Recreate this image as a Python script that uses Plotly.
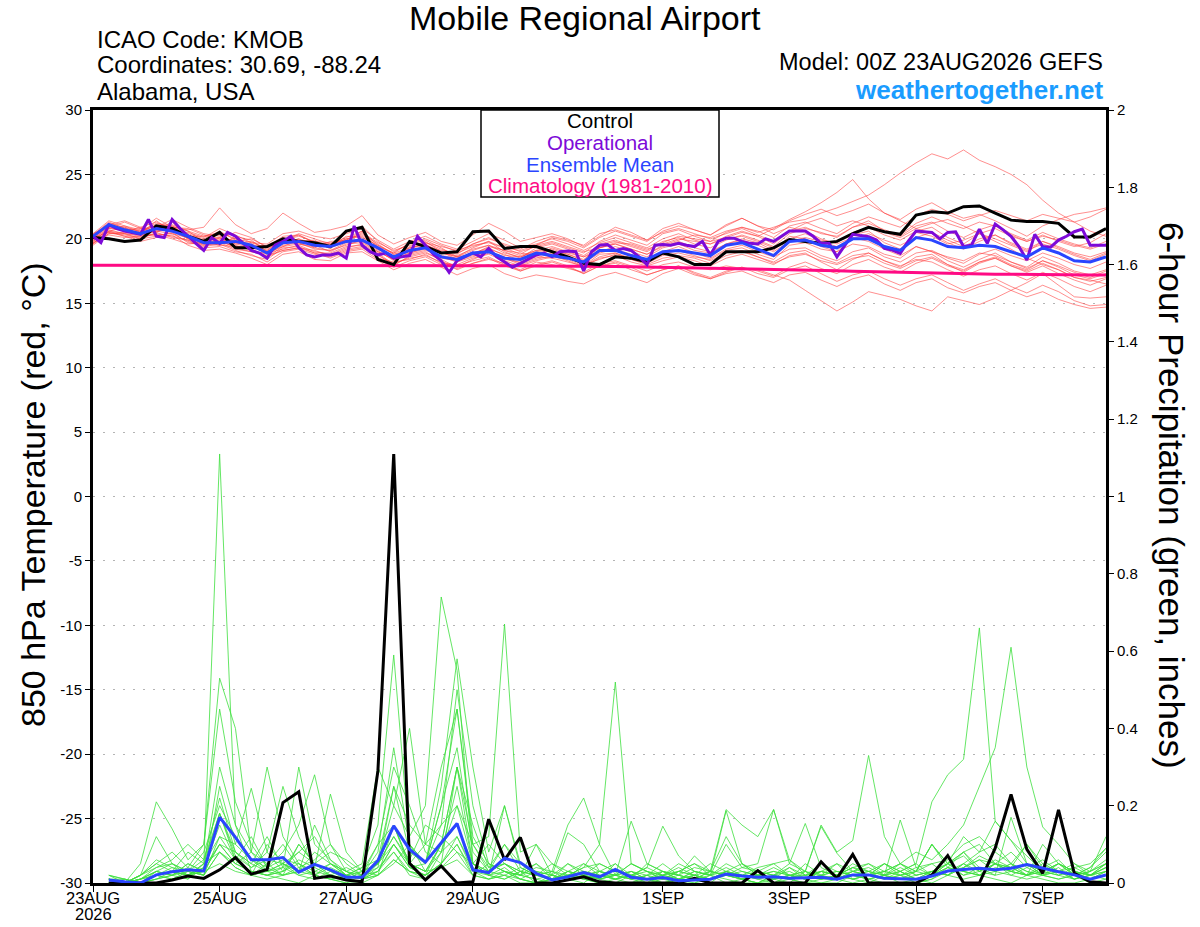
"""
GEFS meteogram for Mobile Regional Airport (KMOB):
850 hPa temperature spaghetti (left axis) and 6-hour precipitation (right axis)
"""
import plotly.graph_objects as go

# forecast hours from 00Z 23AUG2026 (GEFS 6-hourly, operational GFS 3-hourly)
hours = list(range(0, 385, 6))
op_hours = list(range(0, 385, 3))
precip_hours = hours[1:]

x_tickvals = [0, 48, 96, 144, 216, 264, 312, 360]
x_ticktext = ['23AUG', '25AUG', '27AUG', '29AUG', '1SEP', '3SEP', '5SEP', '7SEP']
y_tickvals = [-30, -25, -20, -15, -10, -5, 0, 5, 10, 15, 20, 25, 30]
y_ticktext = ['-30', '-25', '-20', '-15', '-10', '-5', '0', '5', '10', '15', '20', '25', '30']

# ---- 850 hPa temperature (C) ----
control_temp = [
    20.1, 20.0, 19.8, 19.9, 21.0, 20.8, 20.2, 19.8, 20.5, 19.3, 19.3, 19.4, 20.0, 19.8, 19.7, 19.4, 20.6, 20.9, 18.4, 18.0, 19.8, 19.4,
    18.9, 19.0, 20.55, 20.6, 19.25, 19.4, 19.4, 19.0, 18.6, 18.1, 18.0, 18.6, 18.5, 18.2, 18.9, 18.6, 18.0, 18.0, 19.0, 19.0, 19.0,
    19.3, 19.95, 19.8, 19.65, 19.8, 20.4, 20.9, 20.55, 20.35, 21.85, 22.1, 22.0, 22.5, 22.55, 22.0, 21.45, 21.35, 21.35, 21.2, 20.15, 20.15, 20.8,
]

mean_temp = [
    20.2, 21.1, 20.7, 20.4, 20.8, 20.6, 20.2, 19.7, 19.7, 19.8, 19.5, 18.9, 19.7, 19.8, 19.5, 19.4, 19.8, 19.9, 19.3, 18.6, 19.1, 19.3,
    18.6, 18.4, 18.9, 19.0, 18.5, 18.4, 18.9, 18.7, 18.5, 18.2, 19.1, 19.1, 18.7, 18.4, 19.0, 19.1, 18.9, 18.7, 19.5, 19.7, 19.2,
    18.7, 19.8, 19.9, 19.5, 19.3, 20.0, 20.0, 19.4, 19.1, 20.1, 19.9, 19.4, 19.3, 19.5, 19.4, 19.0, 18.6, 19.3, 18.9, 18.3, 18.2, 18.6,
]

clim_temp = [
    17.95, 17.95, 17.95, 17.96, 17.96, 17.96, 17.96, 17.96, 17.96, 17.96, 17.96, 17.96, 17.96, 17.95, 17.95, 17.95, 17.95, 17.95, 17.95, 17.94, 17.94, 17.94,
    17.93, 17.93, 17.92, 17.92, 17.91, 17.91, 17.90, 17.90, 17.89, 17.88, 17.87, 17.85, 17.83, 17.81, 17.79, 17.77, 17.75, 17.73, 17.71, 17.69, 17.67,
    17.64, 17.61, 17.58, 17.55, 17.52, 17.49, 17.46, 17.43, 17.40, 17.37, 17.34, 17.32, 17.30, 17.28, 17.26, 17.25, 17.23, 17.22, 17.21, 17.20, 17.19, 17.19,
]

# operational run, 3-hourly
oper_temp = [
    20.2, 19.7, 21.1, 20.8, 20.6, 20.5, 20.35, 21.5, 20.2, 20.1, 21.5, 20.8, 20.2, 19.65, 19.1, 20.1,
    19.65, 20.5, 20.2, 19.65, 19.1, 18.9, 18.5, 19.5, 19.8, 20.2, 19.3, 18.75, 18.6, 18.75, 18.75, 18.9,
    18.5, 21.0, 19.5, 19.0, 18.75, 18.9, 18.5, 18.6, 18.7, 20.2, 19.5, 18.8, 18.3, 17.4, 18.3, 18.6,
    18.9, 18.6, 19.25, 18.6, 18.2, 17.8, 18.1, 18.4, 18.75, 18.9, 18.6, 19.0, 19.05, 19.0, 17.5, 19.0,
    19.5, 19.55, 19.1, 19.25, 19.1, 18.6, 18.0, 19.5, 19.55, 19.5, 19.65, 19.5, 19.4, 19.8, 18.75, 19.8,
    20.05, 20.05, 19.8, 19.65, 19.6, 20.0, 19.8, 20.2, 20.6, 20.6, 20.6, 20.2, 19.65, 19.65, 18.6, 19.5,
    20.35, 20.25, 20.17, 19.9, 19.26, 19.13, 18.87, 19.8, 20.6, 20.55, 20.5, 20.0, 20.5, 20.55, 19.4, 19.5,
    20.75, 19.65, 21.15, 20.7, 20.2, 19.4, 18.35, 20.35, 19.4, 19.35, 19.9, 20.2, 20.55, 20.75, 19.5, 19.5,
    19.5,
]

# GEFS perturbed members
temp_m01 = [
    20.3, 21.2, 20.9, 20.6, 21.0, 20.8, 20.3, 19.9, 20.1, 19.6, 19.8, 19.2, 19.9, 20.3, 19.7, 19.5, 20.0, 20.3, 19.4, 18.9, 19.3, 19.6,
    18.9, 18.7, 19.2, 19.5, 18.9, 18.6, 19.1, 19.0, 18.8, 18.4, 19.3, 19.6, 19.2, 18.8, 19.5, 19.9, 20.3, 20.1, 20.6, 20.9, 20.5,
    20.9, 21.3, 21.5, 22.0, 22.4, 22.9, 23.4, 24.2, 25.1, 25.9, 26.6, 26.2, 26.9, 26.1, 25.6, 25.0, 24.2, 23.0, 22.0, 21.3, 20.6, 20.2,
]
temp_m02 = [
    20.0, 20.9, 21.3, 20.8, 20.5, 21.1, 20.6, 19.8, 19.5, 20.2, 19.9, 19.0, 19.6, 20.0, 19.3, 19.8, 19.9, 20.4, 19.6, 18.8, 19.0, 19.5,
    19.1, 18.9, 19.4, 19.8, 19.0, 18.5, 19.3, 19.6, 19.2, 18.7, 19.5, 19.8, 19.4, 19.0, 19.7, 20.2, 20.0, 19.8, 20.1, 20.5, 20.2,
    20.8, 21.5, 22.1, 22.8, 23.6, 24.6, 23.1, 22.0, 21.4, 20.8, 21.2, 21.5, 21.0, 20.4, 19.8, 19.2, 18.5, 18.0, 17.6, 17.0, 16.8, 16.5,
]
temp_m03 = [
    19.8, 20.5, 20.3, 20.1, 20.4, 20.2, 19.9, 19.3, 19.4, 19.0, 18.8, 18.2, 19.0, 19.2, 18.8, 18.6, 19.1, 19.3, 18.7, 18.1, 18.5, 18.7,
    18.2, 17.9, 18.3, 18.6, 18.0, 17.6, 18.2, 18.0, 17.7, 17.4, 18.1, 18.3, 17.9, 17.5, 18.0, 18.2, 17.8, 17.6, 17.9, 17.7, 17.6,
    17.2, 16.8, 16.0, 15.2, 14.4, 15.1, 15.9, 15.6, 15.3, 14.8, 14.4, 15.5, 15.2, 14.9, 15.4, 16.0, 16.6, 17.3, 16.4, 15.5, 15.4, 15.5,
]
temp_m04 = [
    20.1, 21.0, 20.6, 20.9, 21.3, 20.7, 20.4, 20.0, 20.6, 19.9, 19.4, 19.5, 20.1, 19.8, 19.9, 19.2, 20.5, 21.0, 19.8, 19.0, 19.6, 19.9,
    19.3, 18.6, 18.8, 19.4, 19.1, 18.9, 18.7, 19.3, 18.9, 18.6, 19.0, 19.4, 19.0, 18.6, 19.3, 19.6, 19.1, 18.9, 19.6, 20.0, 19.7,
    19.1, 20.2, 20.0, 19.4, 19.0, 20.3, 20.6, 19.7, 19.2, 20.5, 20.2, 19.6, 19.9, 20.4, 20.0, 19.5, 19.0, 19.8, 19.4, 18.9, 18.6, 19.0,
]
temp_m05 = [
    19.6, 20.6, 20.9, 20.3, 20.7, 21.3, 20.1, 19.6, 19.8, 20.0, 19.2, 18.6, 19.4, 19.9, 19.5, 19.0, 19.6, 19.7, 19.0, 18.4, 18.9, 19.2,
    18.5, 18.3, 18.7, 19.0, 18.4, 18.2, 18.6, 18.5, 18.2, 17.9, 18.8, 18.9, 18.4, 18.1, 18.7, 18.9, 18.6, 18.4, 19.1, 19.3, 18.8,
    18.4, 19.5, 19.7, 19.2, 19.0, 19.6, 19.4, 18.8, 18.5, 19.4, 19.0, 18.6, 18.3, 18.9, 18.7, 18.2, 17.8, 18.6, 18.1, 17.5, 17.2, 17.6,
]
temp_m06 = [
    20.4, 21.4, 21.0, 20.7, 21.6, 20.9, 20.7, 20.9, 22.4, 21.1, 20.4, 20.8, 22.0, 21.2, 20.5, 20.7, 21.0, 21.8, 20.3, 19.6, 20.1, 20.5,
    19.8, 19.5, 20.3, 21.2, 20.6, 19.8, 20.1, 20.4, 20.0, 19.4, 20.2, 20.9, 20.5, 19.9, 20.8, 21.2, 20.7, 20.3, 21.0, 21.6, 21.0,
    20.7, 21.4, 21.9, 22.3, 21.8, 22.2, 22.7, 22.0, 21.5, 22.3, 22.8, 22.1, 21.6, 21.9, 21.4, 20.8, 20.2, 21.0, 21.5, 21.9, 22.1, 22.4,
]
temp_m07 = [
    19.9, 20.7, 20.4, 20.0, 20.2, 20.5, 19.7, 19.5, 19.9, 19.3, 19.0, 18.9, 19.2, 19.5, 19.0, 18.8, 19.3, 19.6, 18.9, 18.0, 18.6, 18.9,
    18.4, 17.8, 18.4, 18.9, 18.5, 18.0, 18.4, 18.7, 18.3, 17.8, 18.5, 18.7, 18.2, 17.9, 18.3, 18.6, 18.3, 17.9, 18.5, 18.8, 18.4,
    18.0, 18.7, 18.9, 18.2, 17.6, 18.4, 18.9, 18.3, 17.8, 18.6, 18.8, 18.0, 17.4, 18.1, 18.5, 17.9, 17.4, 17.9, 17.3, 16.8, 16.4, 16.9,
]
temp_m08 = [
    20.2, 21.1, 21.4, 20.9, 20.6, 20.9, 20.8, 20.3, 20.0, 20.5, 20.1, 19.3, 19.8, 20.4, 20.0, 19.6, 19.9, 20.6, 19.3, 18.6, 19.4, 19.8,
    19.0, 18.4, 18.9, 19.3, 18.7, 18.6, 19.0, 19.2, 18.8, 18.3, 19.6, 19.9, 19.5, 19.1, 19.8, 20.1, 19.6, 19.3, 19.9, 20.3, 19.9,
    19.4, 20.4, 20.8, 20.5, 20.1, 20.9, 21.4, 20.6, 20.2, 21.0, 21.3, 20.6, 20.1, 20.7, 21.1, 20.4, 19.9, 20.5, 20.0, 19.6, 19.3, 19.8,
]
temp_m09 = [
    19.7, 20.3, 20.1, 20.2, 20.6, 20.4, 19.8, 19.4, 19.6, 19.1, 18.7, 18.4, 19.3, 19.4, 18.9, 18.9, 19.4, 19.5, 18.8, 17.9, 18.7, 19.0,
    18.3, 17.6, 18.1, 18.4, 18.1, 17.5, 18.0, 18.3, 17.9, 17.3, 17.9, 18.2, 17.8, 17.2, 17.6, 17.9, 17.4, 17.0, 17.5, 17.8, 17.3,
    17.0, 17.6, 17.9, 17.3, 16.7, 17.2, 17.5, 16.9, 16.4, 16.9, 17.2, 16.6, 16.0, 16.5, 16.9, 16.3, 15.8, 16.4, 15.9, 15.2, 14.8, 14.9,
]
temp_m10 = [
    20.0, 20.8, 20.7, 20.5, 21.1, 21.0, 20.2, 20.2, 20.3, 19.7, 19.6, 19.1, 20.0, 19.6, 19.4, 19.4, 20.2, 20.1, 19.5, 18.8, 19.2, 19.7,
    19.2, 18.8, 19.6, 20.1, 19.5, 19.0, 19.4, 19.7, 19.3, 18.9, 19.8, 20.3, 19.9, 19.5, 20.4, 20.7, 20.2, 19.8, 20.5, 20.9, 20.6,
    20.1, 21.0, 21.3, 20.8, 20.4, 21.2, 21.7, 21.3, 20.9, 21.8, 22.3, 21.9, 21.4, 21.8, 22.2, 21.8, 21.4, 21.9, 21.6, 21.3, 21.7, 22.3,
]
temp_m11 = [
    19.5, 20.4, 20.5, 20.4, 20.3, 20.0, 19.6, 19.7, 19.7, 19.5, 19.1, 18.8, 19.5, 19.7, 19.2, 19.1, 19.5, 19.9, 19.1, 18.3, 18.8, 19.1,
    18.7, 18.5, 18.9, 19.2, 18.8, 18.3, 18.8, 19.1, 18.6, 18.1, 18.9, 19.2, 18.8, 18.3, 19.0, 19.4, 18.9, 18.5, 19.2, 19.5, 19.0,
    18.6, 19.2, 19.3, 18.7, 18.3, 19.0, 19.3, 18.6, 18.2, 18.9, 19.1, 18.5, 18.1, 18.8, 19.2, 18.7, 18.3, 18.9, 18.5, 18.0, 17.7, 18.2,
]
temp_m12 = [
    20.3, 21.3, 20.8, 20.4, 21.4, 20.6, 20.5, 20.1, 20.8, 20.3, 19.7, 19.6, 20.4, 20.6, 20.2, 20.0, 20.4, 20.8, 19.9, 19.2, 19.8, 20.2,
    19.6, 19.2, 19.8, 20.4, 19.9, 19.3, 19.6, 20.0, 19.6, 19.1, 19.7, 20.1, 19.7, 19.3, 20.0, 20.4, 19.9, 19.6, 20.2, 20.6, 20.2,
    19.6, 20.6, 21.2, 21.6, 21.0, 21.4, 21.0, 20.5, 20.1, 20.8, 20.4, 19.7, 19.2, 19.8, 20.3, 19.6, 19.1, 19.6, 19.2, 18.7, 18.3, 18.8,
]
temp_m13 = [
    19.9, 20.6, 20.2, 19.8, 20.1, 20.3, 19.5, 19.1, 19.2, 18.9, 18.5, 18.0, 18.8, 19.0, 18.4, 18.3, 18.9, 19.0, 18.3, 17.6, 18.1, 18.4,
    17.8, 17.2, 17.7, 18.0, 17.3, 16.9, 17.2, 17.0, 16.7, 16.5, 17.1, 17.4, 17.0, 16.6, 17.3, 17.7, 17.2, 16.9, 17.4, 17.8, 17.5,
    17.1, 17.8, 18.2, 17.7, 17.3, 18.0, 18.4, 17.8, 17.4, 18.1, 18.5, 17.9, 17.5, 18.2, 18.6, 18.0, 17.6, 18.3, 17.8, 17.2, 16.9, 17.3,
]
temp_m14 = [
    20.2, 20.9, 20.6, 20.8, 20.9, 21.5, 20.9, 20.4, 20.2, 19.8, 20.0, 19.4, 19.9, 20.2, 19.8, 19.7, 19.8, 20.5, 19.7, 19.1, 19.5, 19.7,
    19.4, 19.1, 19.5, 19.7, 19.3, 19.1, 19.5, 19.8, 19.4, 19.0, 19.3, 19.7, 19.6, 19.2, 19.6, 20.0, 19.8, 19.6, 20.0, 20.2, 19.8,
    19.3, 20.0, 20.4, 19.9, 19.7, 20.5, 20.9, 20.3, 19.9, 20.6, 20.9, 20.1, 19.6, 20.4, 20.8, 20.2, 19.8, 20.3, 19.8, 19.4, 19.7, 20.4,
]
temp_m15 = [
    19.8, 20.8, 21.0, 20.5, 20.8, 20.6, 20.0, 19.9, 20.1, 19.8, 19.3, 19.0, 19.7, 20.0, 19.6, 19.3, 19.8, 20.0, 19.2, 18.5, 19.0, 19.4,
    18.9, 18.6, 19.3, 19.8, 19.3, 18.8, 19.5, 20.1, 19.8, 19.3, 20.1, 20.6, 20.2, 19.8, 20.6, 21.0, 20.7, 20.3, 21.1, 21.6, 21.0,
    20.4, 20.9, 20.6, 20.0, 19.6, 20.1, 19.8, 19.2, 18.7, 19.4, 19.0, 18.3, 17.8, 18.4, 18.9, 18.2, 17.7, 18.3, 17.9, 17.4, 17.0, 17.5,
]
temp_m16 = [
    20.1, 20.5, 20.2, 20.0, 20.5, 20.1, 19.9, 19.6, 19.5, 19.4, 19.2, 18.6, 19.1, 19.3, 19.1, 18.7, 19.2, 19.4, 18.5, 18.2, 18.4, 18.8,
    18.1, 18.0, 18.5, 18.8, 18.3, 17.9, 18.3, 18.6, 18.4, 17.9, 18.6, 18.9, 18.5, 18.2, 18.8, 19.1, 18.7, 18.3, 18.9, 19.1, 18.6,
    18.2, 18.9, 19.1, 18.5, 18.1, 18.7, 18.9, 18.3, 17.9, 18.4, 18.2, 17.6, 17.1, 17.6, 17.9, 17.3, 16.8, 17.4, 16.9, 16.3, 15.9, 16.4,
]
temp_m17 = [
    19.7, 20.4, 20.4, 20.3, 20.6, 20.7, 20.0, 19.5, 19.7, 19.2, 19.0, 18.7, 19.1, 19.3, 18.9, 18.5, 19.0, 19.2, 18.4, 17.8, 18.3, 18.6,
    18.0, 17.7, 18.1, 18.5, 17.9, 17.5, 17.9, 18.2, 17.8, 17.3, 17.9, 18.1, 17.6, 17.2, 17.6, 17.9, 17.3, 16.9, 17.3, 17.5, 17.0,
    16.6, 17.2, 17.4, 16.8, 16.3, 16.9, 17.2, 16.5, 16.0, 16.6, 16.9, 16.2, 15.8, 16.3, 16.6, 16.0, 15.5, 15.9, 15.3, 14.9, 14.6, 14.7,
]
temp_m18 = [
    20.4, 21.0, 20.8, 20.6, 21.2, 21.0, 20.6, 20.2, 20.5, 20.0, 19.7, 19.3, 20.2, 20.3, 19.7, 19.6, 20.1, 20.6, 19.5, 18.9, 19.7, 20.0,
    19.5, 19.0, 19.6, 20.0, 19.6, 19.2, 19.8, 20.2, 19.9, 19.5, 20.4, 20.7, 20.3, 19.9, 20.5, 20.8, 20.4, 20.0, 20.4, 20.8, 20.3,
    19.8, 20.6, 20.9, 20.4, 20.2, 20.9, 21.2, 20.7, 20.3, 21.2, 21.7, 21.2, 20.8, 21.3, 21.0, 20.3, 19.8, 20.2, 19.9, 19.5, 19.2, 19.6,
]
temp_m19 = [
    19.6, 20.6, 20.4, 20.2, 20.3, 20.4, 20.1, 19.8, 19.8, 19.4, 19.5, 18.9, 19.4, 19.6, 19.3, 19.1, 19.7, 19.8, 19.0, 18.4, 18.9, 19.3,
    18.6, 18.2, 18.6, 19.0, 18.6, 18.1, 18.5, 18.9, 18.5, 18.0, 18.4, 18.8, 18.4, 18.0, 18.5, 18.7, 18.5, 18.1, 18.7, 19.0, 18.6,
    18.1, 18.6, 18.8, 18.3, 18.0, 18.5, 18.7, 18.1, 17.7, 18.3, 18.6, 18.0, 17.6, 18.2, 18.5, 17.9, 17.5, 18.1, 17.6, 17.0, 16.7, 17.0,
]
temp_m20 = [
    20.0, 21.1, 20.6, 20.3, 20.9, 20.9, 20.3, 19.7, 20.0, 19.6, 19.4, 19.1, 19.8, 19.9, 19.5, 19.4, 20.0, 20.2, 19.2, 18.6, 19.3, 19.5,
    19.0, 18.6, 19.1, 19.5, 19.1, 18.7, 19.1, 19.4, 19.0, 18.6, 19.3, 19.6, 19.2, 18.8, 19.4, 19.8, 19.3, 19.0, 19.6, 19.9, 19.5,
    19.0, 19.8, 20.1, 19.8, 19.4, 20.0, 20.4, 19.9, 19.5, 20.1, 20.5, 19.9, 19.4, 20.0, 20.3, 19.7, 19.2, 19.8, 19.3, 18.8, 18.4, 18.9,
]

# ---- 6-hour precipitation (inches), valid from hour 6 ----
control_precip = [
    0, 0, 0, 0, 0.008, 0.018, 0.012, 0.034, 0.066, 0.023, 0.035, 0.208, 0.236, 0.012, 0.018, 0.008,
    0.003, 0.29, 1.11, 0.051, 0.008, 0.044, 0, 0.003, 0.165, 0.06, 0.118, 0, 0, 0.008, 0.016, 0.003,
    0, 0, 0, 0, 0, 0.012, 0, 0, 0, 0.032, 0, 0, 0, 0.055, 0.012, 0.074,
    0, 0, 0, 0, 0.021, 0.071, 0, 0, 0.09, 0.229, 0.087, 0.025, 0.189, 0.025, 0.003, 0,
]
mean_precip = [
    0.008, 0.003, 0, 0.021, 0.029, 0.034, 0.031, 0.17, 0.118, 0.06, 0.06, 0.066, 0.028, 0.048, 0.034, 0.015,
    0.015, 0.058, 0.148, 0.087, 0.054, 0.103, 0.154, 0.034, 0.027, 0.064, 0.053, 0.025, 0.008, 0.016, 0.027, 0.016,
    0.035, 0.015, 0.01, 0.014, 0.006, 0.008, 0.01, 0.023, 0.018, 0.015, 0.016, 0.012, 0.014, 0.015, 0.01, 0.021,
    0.021, 0.012, 0.011, 0.01, 0.018, 0.031, 0.035, 0.038, 0.034, 0.038, 0.048, 0.038, 0.029, 0.021, 0.01, 0.021,
]

precip_m01 = [
    0.01, 0, 0, 0.02, 0.03, 0.01, 0.05, 1.11, 0.15, 0.03, 0.02, 0.01, 0, 0.02, 0.01, 0,
    0, 0.02, 0.06, 0.03, 0.01, 0.08, 0.12, 0.03, 0.01, 0.02, 0, 0, 0.01, 0.02, 0.01, 0,
    0, 0, 0.01, 0, 0, 0, 0.02, 0.01, 0, 0, 0, 0.01, 0, 0, 0, 0.02,
    0.01, 0, 0, 0, 0.01, 0.03, 0.05, 0.02, 0.01, 0, 0.02, 0.01, 0, 0, 0.01, 0.03,
]
precip_m02 = [
    0, 0, 0.02, 0.05, 0.08, 0.04, 0.1, 0.53, 0.40, 0.08, 0.03, 0.05, 0.02, 0.01, 0.03, 0.02,
    0.01, 0.05, 0.15, 0.04, 0.02, 0.1, 0.3, 0.05, 0.02, 0.01, 0.03, 0, 0, 0.01, 0.02, 0.01,
    0, 0.02, 0, 0.01, 0.03, 0.05, 0.02, 0, 0.01, 0, 0.02, 0.04, 0.01, 0, 0.01, 0.03,
    0.05, 0.02, 0, 0.01, 0.02, 0.04, 0.08, 0.1, 0.05, 0.02, 0.04, 0.06, 0.03, 0.01, 0.02, 0.05,
]
precip_m03 = [
    0.01, 0, 0.05, 0.21, 0.14, 0.06, 0.1, 0.45, 0.21, 0.1, 0.04, 0.06, 0.05, 0.02, 0.01, 0,
    0.02, 0.08, 0.35, 0.1, 0.05, 0.2, 0.45, 0.1, 0.03, 0.05, 0.02, 0.01, 0, 0.03, 0.05, 0.02,
    0.01, 0, 0.02, 0, 0.01, 0.02, 0, 0.03, 0.02, 0.01, 0, 0.02, 0.01, 0.03, 0.05, 0.01,
    0, 0.02, 0.03, 0.01, 0.02, 0.05, 0.07, 0.03, 0.06, 0.04, 0.1, 0.05, 0.02, 0.03, 0.01, 0.02,
]
precip_m04 = [
    0, 0, 0, 0.02, 0.03, 0.08, 0.05, 0.18, 0.06, 0.12, 0.04, 0.02, 0.03, 0.08, 0.05, 0.02,
    0.04, 0.15, 0.59, 0.1, 0.03, 0.04, 0.08, 0.02, 0.05, 0.03, 0.01, 0, 0.02, 0.01, 0, 0.03,
    0.02, 0.05, 0.03, 0.01, 0, 0.02, 0.05, 0.03, 0.01, 0, 0.02, 0.01, 0, 0.01, 0.02, 0.04,
    0.02, 0.05, 0.03, 0.01, 0, 0.02, 0.05, 0.08, 0.16, 0.11, 0.07, 0.03, 0.05, 0.02, 0.04, 0.09,
]
precip_m05 = [
    0.02, 0.01, 0, 0.03, 0.02, 0.01, 0.04, 0.3, 0.15, 0.08, 0.3, 0.12, 0.05, 0.03, 0.02, 0.01,
    0.03, 0.05, 0.2, 0.12, 0.2, 0.74, 0.55, 0.05, 0.02, 0.04, 0.01, 0, 0.01, 0.05, 0.03, 0.01,
    0.05, 0.01, 0, 0.03, 0.01, 0, 0.01, 0.03, 0.05, 0.02, 0.01, 0, 0.03, 0.01, 0.01, 0.02,
    0.03, 0.01, 0.02, 0, 0.01, 0.04, 0.03, 0.02, 0.05, 0.08, 0.04, 0.02, 0.01, 0.02, 0, 0.01,
]
precip_m06 = [
    0.01, 0, 0.02, 0.12, 0.05, 0.03, 0.02, 0.25, 0.1, 0.245, 0.08, 0.25, 0.12, 0.04, 0.02, 0.01,
    0.02, 0.04, 0.25, 0.08, 0.05, 0.25, 0.58, 0.3, 0.08, 0.2, 0.04, 0.02, 0.03, 0.01, 0.02, 0.03,
    0.01, 0.02, 0.04, 0.02, 0.01, 0.03, 0.02, 0.05, 0.03, 0.02, 0.01, 0.04, 0.02, 0.01, 0.02, 0.01,
    0.02, 0.03, 0.05, 0.02, 0.03, 0.02, 0.04, 0.06, 0.03, 0.05, 0.03, 0.02, 0.04, 0.01, 0.03, 0.05,
]
precip_m07 = [
    0, 0, 0.01, 0.04, 0.06, 0.1, 0.06, 0.18, 0.08, 0.05, 0.12, 0.04, 0.3, 0.1, 0.06, 0.03,
    0.05, 0.3, 0.2, 0.4, 0.1, 0.15, 0.5, 0.2, 0.05, 0.03, 0.02, 0.05, 0.01, 0.02, 0.04, 0.1,
    0.02, 0.01, 0.05, 0.03, 0.02, 0.01, 0.03, 0.02, 0.01, 0.03, 0.02, 0.01, 0.05, 0.02, 0.03, 0.02,
    0.01, 0.02, 0.01, 0.03, 0.1, 0.05, 0.08, 0.04, 0.02, 0.17, 0.05, 0.03, 0.05, 0.02, 0.01, 0.03,
]
precip_m08 = [
    0.01, 0.01, 0, 0.02, 0.04, 0.03, 0.08, 0.2, 0.12, 0.06, 0.04, 0.08, 0.15, 0.28, 0.1, 0.05,
    0.02, 0.03, 0.1, 0.05, 0.1, 0.08, 0.2, 0.1, 0.12, 0.67, 0.08, 0.1, 0.05, 0.03, 0.02, 0.01,
    0.02, 0.03, 0.01, 0.02, 0.04, 0.02, 0.01, 0.03, 0.02, 0.04, 0.05, 0.02, 0.03, 0.02, 0.01, 0.03,
    0.02, 0.01, 0.03, 0.05, 0.02, 0.03, 0.04, 0.06, 0.05, 0.03, 0.02, 0.04, 0.03, 0.01, 0.02, 0.04,
]
precip_m09 = [
    0, 0, 0.01, 0.03, 0.02, 0.05, 0.03, 0.1, 0.05, 0.03, 0.02, 0.03, 0.06, 0.04, 0.23, 0.08,
    0.03, 0.05, 0.12, 0.05, 0.03, 0.1, 0.15, 0.05, 0.02, 0.2, 0.05, 0.02, 0.03, 0.15, 0.22, 0.1,
    0.52, 0.05, 0.03, 0.01, 0.02, 0.04, 0.03, 0.12, 0.05, 0.02, 0.03, 0.02, 0.01, 0.03, 0.02, 0.04,
    0.03, 0.02, 0.05, 0.03, 0.1, 0.04, 0.02, 0.03, 0.05, 0.04, 0.02, 0.03, 0.05, 0.03, 0.02, 0.04,
]
precip_m10 = [
    0.02, 0, 0, 0.01, 0.03, 0.02, 0.05, 0.08, 0.04, 0.02, 0.1, 0.05, 0.03, 0.15, 0.06, 0.02,
    0.01, 0.04, 0.08, 0.03, 0.02, 0.05, 0.1, 0.02, 0.01, 0.03, 0.02, 0.1, 0.02, 0.01, 0.05, 0.03,
    0.02, 0.16, 0.05, 0.03, 0.02, 0.07, 0.03, 0.19, 0.15, 0.12, 0.19, 0.06, 0.03, 0.15, 0.08, 0.11,
    0.33, 0.12, 0.05, 0.03, 0.1, 0.05, 0.02, 0.04, 0.03, 0.05, 0.02, 0.04, 0.06, 0.02, 0.03, 0.05,
]
precip_m11 = [
    0, 0.01, 0, 0.02, 0.01, 0.03, 0.02, 0.12, 0.06, 0.02, 0.05, 0.02, 0.1, 0.05, 0.03, 0.01,
    0.02, 0.1, 0.15, 0.05, 0.03, 0.1, 0.3, 0.1, 0.04, 0.05, 0.02, 0.01, 0.02, 0.01, 0.03, 0.02,
    0.01, 0.03, 0.02, 0.01, 0.03, 0.02, 0.01, 0.03, 0.02, 0.01, 0.02, 0.03, 0.01, 0.02, 0.05, 0.03,
    0.04, 0.02, 0.03, 0.05, 0.21, 0.28, 0.32, 0.66, 0.16, 0.11, 0.05, 0.03, 0.02, 0.04, 0.02, 0.05,
]
precip_m12 = [
    0.01, 0, 0.01, 0.03, 0.05, 0.02, 0.04, 0.1, 0.08, 0.05, 0.03, 0.04, 0.08, 0.12, 0.05, 0.03,
    0.01, 0.02, 0.05, 0.1, 0.05, 0.15, 0.2, 0.05, 0.03, 0.1, 0.03, 0.02, 0.01, 0.03, 0.02, 0.01,
    0.02, 0.01, 0.02, 0.03, 0.01, 0.02, 0.03, 0.02, 0.01, 0.02, 0.04, 0.02, 0.01, 0.03, 0.02, 0.01,
    0.02, 0.03, 0.05, 0.08, 0.06, 0.1, 0.15, 0.25, 0.35, 0.61, 0.3, 0.145, 0.1, 0.05, 0.03, 0.12,
]
precip_m13 = [
    0, 0, 0.02, 0.05, 0.03, 0.02, 0.04, 0.15, 0.06, 0.03, 0.02, 0.03, 0.05, 0.02, 0.04, 0.02,
    0.01, 0.03, 0.1, 0.04, 0.02, 0.05, 0.12, 0.04, 0.02, 0.03, 0.01, 0.03, 0.02, 0.05, 0.02, 0.03,
    0.05, 0.02, 0.04, 0.147, 0.07, 0.03, 0.02, 0.187, 0.05, 0.03, 0.02, 0.05, 0.03, 0.146, 0.077, 0.03,
    0.02, 0.05, 0.03, 0.01, 0.03, 0.05, 0.03, 0.02, 0.05, 0.03, 0.02, 0.1, 0.05, 0.03, 0.02, 0.03,
]
precip_m14 = [
    0.01, 0, 0.01, 0.03, 0.02, 0.04, 0.02, 0.08, 0.05, 0.03, 0.02, 0.04, 0.02, 0.03, 0.05, 0.02,
    0.03, 0.02, 0.15, 0.05, 0.03, 0.08, 0.25, 0.05, 0.03, 0.02, 0.04, 0.02, 0.01, 0.02, 0.03, 0.02,
    0.02, 0.03, 0.01, 0.02, 0.03, 0.05, 0.03, 0.02, 0.04, 0.05, 0.19, 0.05, 0.154, 0.04, 0.02, 0.05,
    0.03, 0.02, 0.163, 0.04, 0.02, 0.05, 0.08, 0.03, 0.05, 0.04, 0.02, 0.05, 0.03, 0.02, 0.04, 0.08,
]
precip_m15 = [
    0, 0, 0.02, 0.04, 0.05, 0.03, 0.06, 0.22, 0.08, 0.04, 0.06, 0.05, 0.08, 0.05, 0.03, 0.02,
    0.04, 0.06, 0.25, 0.15, 0.1, 0.3, 0.45, 0.12, 0.05, 0.03, 0.02, 0.04, 0.03, 0.02, 0.04, 0.05,
    0.03, 0.02, 0.03, 0.02, 0.05, 0.03, 0.02, 0.04, 0.02, 0.03, 0.02, 0.01, 0.02, 0.03, 0.02, 0.04,
    0.05, 0.03, 0.02, 0.04, 0.05, 0.06, 0.1, 0.12, 0.08, 0.05, 0.1, 0.04, 0.03, 0.02, 0.03, 0.06,
]
precip_m16 = [
    0.02, 0.01, 0, 0.01, 0.02, 0.05, 0.03, 0.1, 0.05, 0.08, 0.05, 0.1, 0.04, 0.06, 0.1, 0.03,
    0.02, 0.05, 0.12, 0.06, 0.15, 0.12, 0.08, 0.05, 0.1, 0.05, 0.03, 0.02, 0.01, 0.03, 0.02, 0.01,
    0.02, 0.01, 0.02, 0.05, 0.02, 0.01, 0.02, 0.03, 0.01, 0.02, 0.01, 0.02, 0.01, 0.02, 0.03, 0.02,
    0.01, 0.02, 0.04, 0.02, 0.03, 0.02, 0.05, 0.03, 0.02, 0.03, 0.05, 0.02, 0.03, 0.05, 0.02, 0.04,
]
precip_m17 = [
    0, 0, 0.01, 0.02, 0.03, 0.02, 0.05, 0.12, 0.1, 0.06, 0.03, 0.05, 0.03, 0.05, 0.08, 0.06,
    0.03, 0.1, 0.3, 0.2, 0.08, 0.05, 0.3, 0.15, 0.04, 0.1, 0.05, 0.03, 0.02, 0.01, 0.02, 0.05,
    0.03, 0.02, 0.01, 0.02, 0.03, 0.02, 0.01, 0.02, 0.03, 0.02, 0.03, 0.02, 0.02, 0.03, 0.02, 0.01,
    0.02, 0.03, 0.02, 0.01, 0.03, 0.05, 0.12, 0.08, 0.1, 0.05, 0.03, 0.02, 0.05, 0.03, 0.02, 0.01,
]
precip_m18 = [
    0.01, 0, 0.02, 0.06, 0.04, 0.02, 0.03, 0.18, 0.07, 0.04, 0.08, 0.03, 0.1, 0.05, 0.02, 0.04,
    0.02, 0.05, 0.1, 0.04, 0.05, 0.2, 0.35, 0.08, 0.03, 0.05, 0.03, 0.05, 0.02, 0.13, 0.1, 0.03,
    0.02, 0.05, 0.03, 0.02, 0.01, 0.03, 0.02, 0.1, 0.04, 0.03, 0.05, 0.06, 0.02, 0.05, 0.03, 0.02,
    0.03, 0.05, 0.02, 0.03, 0.05, 0.02, 0.04, 0.07, 0.05, 0.03, 0.05, 0.02, 0.03, 0.04, 0.05, 0.09,
]
precip_m19 = [
    0, 0, 0, 0.01, 0.02, 0.03, 0.02, 0.08, 0.04, 0.02, 0.03, 0.02, 0.04, 0.02, 0.05, 0.03,
    0.01, 0.02, 0.06, 0.03, 0.02, 0.05, 0.1, 0.03, 0.02, 0.01, 0.03, 0.02, 0.05, 0.02, 0.01, 0.02,
    0.01, 0.02, 0.01, 0.03, 0.02, 0.01, 0.03, 0.02, 0.01, 0.02, 0.01, 0.02, 0.03, 0.01, 0.02, 0.03,
    0.02, 0.01, 0.02, 0.03, 0.02, 0.04, 0.03, 0.02, 0.04, 0.03, 0.02, 0.03, 0.02, 0.01, 0.02, 0.03,
]
precip_m20 = [
    0.01, 0, 0.01, 0.02, 0.01, 0.02, 0.03, 0.05, 0.03, 0.02, 0.01, 0.02, 0.03, 0.02, 0.01, 0.02,
    0.01, 0.03, 0.08, 0.02, 0.01, 0.04, 0.06, 0.02, 0.01, 0.02, 0.01, 0, 0.01, 0.02, 0.01, 0,
    0.01, 0.02, 0.01, 0, 0.01, 0.02, 0.01, 0.02, 0.01, 0, 0.01, 0.02, 0.01, 0.02, 0.01, 0,
    0.01, 0.02, 0.01, 0.02, 0.03, 0.02, 0.01, 0.02, 0.03, 0.02, 0.01, 0.02, 0.01, 0.02, 0.01, 0.02,
]

temp_members = [temp_m01, temp_m02, temp_m03, temp_m04, temp_m05, temp_m06, temp_m07,
                temp_m08, temp_m09, temp_m10, temp_m11, temp_m12, temp_m13, temp_m14,
                temp_m15, temp_m16, temp_m17, temp_m18, temp_m19, temp_m20]
precip_members = [precip_m01, precip_m02, precip_m03, precip_m04, precip_m05, precip_m06,
                  precip_m07, precip_m08, precip_m09, precip_m10, precip_m11, precip_m12,
                  precip_m13, precip_m14, precip_m15, precip_m16, precip_m17, precip_m18,
                  precip_m19, precip_m20]

# colours
RED = 'rgba(255,60,60,0.72)'
GREEN = '#3ddf3d'
PURPLE = '#7d0ad8'
BLUE = '#2a45ff'
PINK = '#ff0a84'
FONT = 'Liberation Sans, Arial, Helvetica, sans-serif'

# plot area in pixels (1200x927 page)
W, H = 1200, 927
L, R, T, B = 93, 94, 110, 44


def px_x(px):
    return (px - L) / (W - L - R)


def px_y(py):
    return (H - B - py) / (H - T - B)


fig = go.Figure()

# temperature spaghetti
for member in temp_members:
    fig.add_trace(go.Scatter(x=hours, y=member, mode='lines',
                             line=dict(color=RED, width=0.8), hoverinfo='skip'))

fig.add_trace(go.Scatter(x=hours, y=clim_temp, mode='lines', name='Climatology (1981-2010)',
                         line=dict(color=PINK, width=3)))
fig.add_trace(go.Scatter(x=hours, y=control_temp, mode='lines', name='Control',
                         line=dict(color='black', width=3)))
fig.add_trace(go.Scatter(x=op_hours, y=oper_temp, mode='lines', name='Operational',
                         line=dict(color=PURPLE, width=3)))
fig.add_trace(go.Scatter(x=hours, y=mean_temp, mode='lines', name='Ensemble Mean',
                         line=dict(color=BLUE, width=3)))

# precipitation spaghetti (right axis)
for member in precip_members:
    fig.add_trace(go.Scatter(x=precip_hours, y=member, mode='lines', yaxis='y2',
                             line=dict(color=GREEN, width=0.8), hoverinfo='skip'))

fig.add_trace(go.Scatter(x=precip_hours, y=control_precip, mode='lines', yaxis='y2',
                         line=dict(color='black', width=3)))
fig.add_trace(go.Scatter(x=precip_hours, y=mean_precip, mode='lines', yaxis='y2',
                         line=dict(color=BLUE, width=3)))


def text_note(text, x, y, size, anchor='left', color='black', angle=0):
    return dict(text=text, x=px_x(x), y=px_y(y), xref='paper', yref='paper',
                xanchor=anchor, yanchor='middle', showarrow=False, textangle=angle,
                borderpad=0, font=dict(size=size, color=color, family=FONT))


annotations = [
    text_note('Mobile Regional Airport', 585, 18, 34, anchor='center'),
    text_note('ICAO Code: KMOB', 96, 39, 24),
    text_note('Coordinates: 30.69, -88.24', 96, 65, 24),
    text_note('Alabama, USA', 96, 92, 24),
    text_note('Model: 00Z 23AUG2026 GEFS', 1104, 62, 23.5, anchor='right'),
    text_note('<b>weathertogether.net</b>', 1104, 90, 26, anchor='right', color='#1a9cff'),
    text_note('850 hPa Temperature (red, °C)', 33, 495, 34, anchor='center', angle=-90),
    text_note('6-hour Precipitation (green, inches)', 1172, 495, 35, anchor='center', angle=90),
]

# legend box: one centred line per series
legend_lines = [('Control', 'black', 121), ('Operational', PURPLE, 142.5),
                ('Ensemble Mean', BLUE, 164), ('Climatology (1981-2010)', PINK, 185.5)]
for label, color, py in legend_lines:
    annotations.append(text_note(label, 600, py, 20.5, anchor='center', color=color))

# date labels under the x axis
for hv, label in zip(x_tickvals, x_ticktext):
    annotations.append(dict(text=label, x=hv, y=px_y(898), xref='x', yref='paper',
                            xanchor='center', yanchor='middle', showarrow=False,
                            font=dict(size=16.5, family=FONT)))
annotations.append(dict(text='2026', x=0, y=px_y(914), xref='x', yref='paper',
                        xanchor='center', yanchor='middle', showarrow=False,
                        font=dict(size=16.5, family=FONT)))

fig.update_layout(
    width=W, height=H,
    margin=dict(l=L, r=R, t=T, b=B, autoexpand=False),
    paper_bgcolor='white',
    plot_bgcolor='white',
    font=dict(family=FONT, color='black'),
    showlegend=False,
    annotations=annotations,
    shapes=[dict(type='rect', xref='paper', yref='paper',
                 x0=px_x(481), x1=px_x(719), y0=px_y(197), y1=px_y(110),
                 line=dict(color='black', width=1.5), fillcolor='white', layer='above')],
    xaxis=dict(
        range=[0, 384], tickmode='array', tickvals=x_tickvals, showticklabels=False,
        ticks='outside', ticklen=6, tickwidth=1, tickcolor='black',
        showline=True, linewidth=3, linecolor='black', mirror=True,
        showgrid=False, zeroline=False,
    ),
    yaxis=dict(
        range=[-30, 30], tickmode='array', tickvals=y_tickvals, ticktext=y_ticktext,
        ticks='outside', ticklen=5, tickwidth=1, tickcolor='black',
        showline=True, linewidth=3, linecolor='black',
        showgrid=True, gridcolor='#b4b4b4', gridwidth=1, griddash='2px,8px',
        zeroline=False, tickfont=dict(size=15),
    ),
    yaxis2=dict(
        range=[0, 2], tick0=0, dtick=0.2, overlaying='y', side='right',
        ticks='outside', ticklen=5, tickwidth=1, tickcolor='black',
        showline=True, linewidth=3, linecolor='black',
        showgrid=False, zeroline=False, tickfont=dict(size=15),
    ),
)

fig.write_html("out.html", config={'displayModeBar': False},
               post_script="document.body.style.margin='0';")
